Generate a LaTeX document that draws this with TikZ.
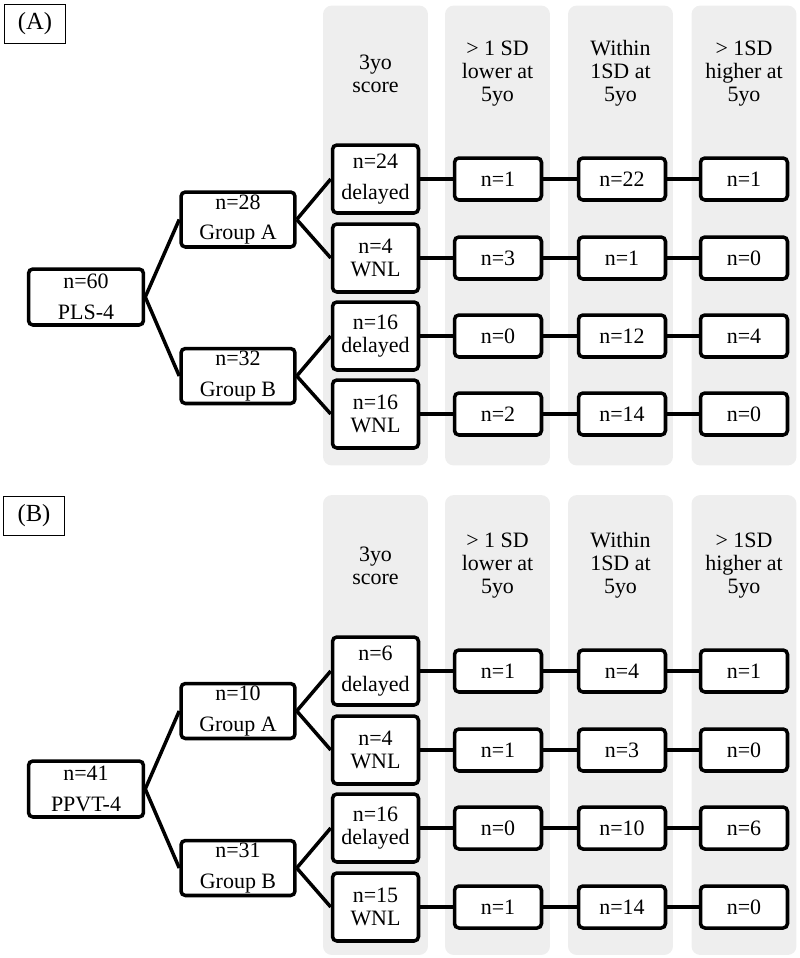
\documentclass[tikz,border=0pt]{standalone}
\usepackage{fontspec}
\setmainfont{Liberation Serif}
\usetikzlibrary{positioning}
\definecolor{colgrey}{HTML}{EEEEEE}

\begin{document}
\begin{tikzpicture}[x=0.02cm, y=-0.02cm,
    font=\fontsize{12.5}{13}\selectfont,
    col/.style={fill=colgrey, rounded corners=5pt, minimum width=2.1cm, minimum height=9.2cm, inner sep=0pt},
    head/.style={align=center},
    panel/.style={draw, line width=0.8pt, minimum width=1.22cm, minimum height=0.78cm, font=\fontsize{14}{15}\selectfont},
    box/.style={draw, line width=2pt, rounded corners=2.5pt, fill=white, align=center, inner sep=1pt},
    root/.style={box, minimum width=2.3cm, minimum height=1.12cm},
    grp/.style={box, minimum width=2.28cm, minimum height=1.1cm},
    score/.style={box, minimum width=1.72cm, minimum height=1.36cm},
    outbox/.style={box, minimum width=1.74cm, minimum height=0.84cm},
    link/.style={line width=2pt}
]
\useasboundingbox (0,0) rectangle (800,958);

% ---- panel (A): PLS-4
\node[col] (Ac1) at (375.5,235.5) {};
\node[col] (Ac2) at (497.5,235.5) {};
\node[col] (Ac3) at (620.5,235.5) {};
\node[col] (Ac4) at (744,235.5) {};
\node[head] (Ah1) at (375.5,74) {3yo\\score};
\node[head] (Ah2) at (497.5,73.5) {> 1 SD\\lower at\\5yo};
\node[head] (Ah3) at (620.5,73.5) {Within\\1SD at\\5yo};
\node[head] (Ah4) at (744,73.5) {> 1SD\\higher at\\5yo};
\node[panel] (Alab) at (35,24) {(A)};

\node[root] (Aroot) at (86,297) {n=60\\[4.5pt]PLS-4};
\node[grp] (Aga) at (238,219.5) {n=28\\[4.5pt]Group A};
\node[grp] (Agb) at (238,376) {n=32\\[4.5pt]Group B};
\node[score] (As1) at (375.5,179) {n=24\\[4.5pt]delayed};
\node[score] (As2) at (375.5,258) {n=4\\WNL};
\node[score] (As3) at (375.5,336) {n=16\\delayed};
\node[score] (As4) at (375.5,414) {n=16\\WNL};

\draw[link] (Aroot.east) -- (Aga.west);
\draw[link] (Aroot.east) -- (Agb.west);
\draw[link] (Aga.east) -- (As1.west);
\draw[link] (Aga.east) -- (As2.west);
\draw[link] (Agb.east) -- (As3.west);
\draw[link] (Agb.east) -- (As4.west);

\foreach \r/\y/\a/\b/\c in {1/179/1/22/1, 2/258/3/1/0, 3/336/0/12/4, 4/414/2/14/0} {
  \node[outbox] (Alo\r) at (498,\y) {n=\a};
  \node[outbox] (Awi\r) at (622,\y) {n=\b};
  \node[outbox] (Ahi\r) at (744,\y) {n=\c};
  \draw[link] (As\r) -- (Alo\r) -- (Awi\r) -- (Ahi\r);
}

% ---- panel (B): PPVT-4
\node[col] (Bc1) at (375.5,725) {};
\node[col] (Bc2) at (497.5,725) {};
\node[col] (Bc3) at (620.5,725) {};
\node[col] (Bc4) at (744,725) {};
\node[head] (Bh1) at (375.5,566) {3yo\\score};
\node[head] (Bh2) at (497.5,565.5) {> 1 SD\\lower at\\5yo};
\node[head] (Bh3) at (620.5,565.5) {Within\\1SD at\\5yo};
\node[head] (Bh4) at (744,565.5) {> 1SD\\higher at\\5yo};
\node[panel] (Blab) at (34,516) {(B)};

\node[root] (Broot) at (86,789) {n=41\\[4.5pt]PPVT-4};
\node[grp] (Bga) at (238,711) {n=10\\[4.5pt]Group A};
\node[grp] (Bgb) at (238,868) {n=31\\[4.5pt]Group B};
\node[score] (Bs1) at (375.5,671) {n=6\\[4.5pt]delayed};
\node[score] (Bs2) at (375.5,750) {n=4\\WNL};
\node[score] (Bs3) at (375.5,828) {n=16\\delayed};
\node[score] (Bs4) at (375.5,907) {n=15\\WNL};

\draw[link] (Broot.east) -- (Bga.west);
\draw[link] (Broot.east) -- (Bgb.west);
\draw[link] (Bga.east) -- (Bs1.west);
\draw[link] (Bga.east) -- (Bs2.west);
\draw[link] (Bgb.east) -- (Bs3.west);
\draw[link] (Bgb.east) -- (Bs4.west);

\foreach \r/\y/\a/\b/\c in {1/671/1/4/1, 2/750/1/3/0, 3/828/0/10/6, 4/907/1/14/0} {
  \node[outbox] (Blo\r) at (498,\y) {n=\a};
  \node[outbox] (Bwi\r) at (622,\y) {n=\b};
  \node[outbox] (Bhi\r) at (744,\y) {n=\c};
  \draw[link] (Bs\r) -- (Blo\r) -- (Bwi\r) -- (Bhi\r);
}
\end{tikzpicture}
\end{document}
